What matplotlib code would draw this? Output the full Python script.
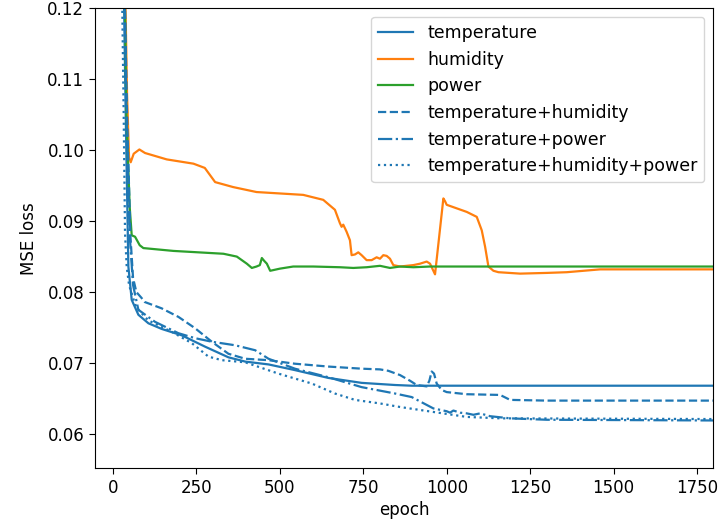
import matplotlib
matplotlib.use("Agg")
import matplotlib.pyplot as plt

plt.rcParams['font.family'] = ['DejaVu Sans']
plt.rcParams['font.size'] = 12

# ---------------- data ----------------
temp_x = [0, 30, 38, 46, 56, 76, 106, 146, 206, 276, 346, 396, 466, 545, 645, 745, 845, 895, 1000, 1200, 1400, 1600, 1800]
temp_y = [0.5, 0.13, 0.105, 0.0836, 0.0789, 0.0768, 0.0756, 0.0748, 0.0739, 0.0723, 0.0708, 0.0702, 0.0698,
          0.0690, 0.0679, 0.0672, 0.0669, 0.0668, 0.0668, 0.0668, 0.0668, 0.0668, 0.0668]

hum_x = [0, 30, 42, 48, 53, 62, 79, 96, 161, 241, 275, 306, 360, 430, 500, 570, 630, 665, 680, 685, 690, 700,
         710, 715, 725, 735, 745, 760, 775, 790, 800, 810, 820, 830, 840, 860, 880, 900, 920, 940, 950, 965,
         990, 995, 1000, 1060, 1090, 1105, 1115, 1125, 1140, 1155, 1220, 1300, 1360, 1460, 1600, 1800]
hum_y = [0.6, 0.14, 0.108, 0.0990, 0.0983, 0.0995, 0.1001, 0.0996, 0.0987, 0.0981, 0.0975, 0.0955, 0.0948,
         0.0941, 0.0939, 0.0937, 0.0930, 0.0916, 0.0897, 0.0892, 0.0895, 0.0885,
         0.0873, 0.0852, 0.0853, 0.0856, 0.0852, 0.0845, 0.0845, 0.0849, 0.0847, 0.0852, 0.0851, 0.0847,
         0.0838, 0.0836, 0.0837, 0.0838, 0.0840, 0.0843, 0.0840, 0.0825,
         0.0932, 0.0928, 0.0923, 0.0913, 0.0906, 0.0887, 0.0864, 0.0836, 0.0830, 0.0828, 0.0826, 0.0827,
         0.0828, 0.0832, 0.0832, 0.0832]

pow_x = [0, 30, 40, 50, 56, 66, 80, 91, 181, 331, 371, 401, 416, 430, 440, 446, 453, 461, 471, 500, 540,
         600, 680, 720, 760, 800, 830, 860, 900, 950, 1000, 1800]
pow_y = [0.6, 0.14, 0.105, 0.092, 0.0880, 0.0878, 0.0866, 0.0862, 0.0858, 0.0854, 0.0850, 0.0840, 0.0834,
         0.0836, 0.0838, 0.0848, 0.0844, 0.0840, 0.0830, 0.0833, 0.0836,
         0.0836, 0.0835, 0.0834, 0.0835, 0.0837, 0.0834, 0.0836, 0.0835, 0.0836, 0.0836, 0.0836]

th_x = [0, 32, 42, 52, 60, 70, 85, 95, 146, 196, 246, 296, 346, 396, 466, 545, 645, 745, 800, 825, 860,
        890, 910, 940, 948, 955, 962, 970, 985, 1000, 1060, 1160, 1190, 1300, 1800]
th_y = [0.5, 0.13, 0.105, 0.088, 0.082, 0.0800, 0.0792, 0.0786, 0.0777, 0.0765, 0.0749, 0.0730, 0.0713,
        0.0706, 0.0704, 0.0699, 0.0695, 0.0692, 0.0691, 0.0689, 0.0683,
        0.0675, 0.0669, 0.0667, 0.0675, 0.0688, 0.0685, 0.0671, 0.0662, 0.0659, 0.0656, 0.0655, 0.0648,
        0.0647, 0.0647]

tp_x = [0, 32, 40, 50, 60, 76, 126, 196, 246, 296, 366, 426, 466, 545, 645, 745, 845, 895, 960, 1000,
        1010, 1020, 1040, 1060, 1080, 1100, 1130, 1190, 1300, 1800]
tp_y = [0.5, 0.13, 0.105, 0.088, 0.081, 0.0775, 0.0758, 0.0742, 0.0735, 0.0730, 0.0725, 0.0718, 0.0706,
        0.0692, 0.0680, 0.0666, 0.0657, 0.0652, 0.0636, 0.0632,
        0.0630, 0.0633, 0.0630, 0.0629, 0.0627, 0.0629, 0.0625, 0.0622, 0.0620, 0.0619]

thp_x = [0, 25, 32, 36, 41, 48, 56, 66, 76, 106, 176, 236, 286, 326, 396, 496, 596, 665, 725, 800, 860,
         960, 1060, 1160, 1800]
thp_y = [0.5, 0.13, 0.105, 0.0883, 0.0836, 0.0810, 0.0798, 0.0783, 0.0775, 0.0760, 0.0744, 0.0728,
         0.0709, 0.0704, 0.0701, 0.0685, 0.0671, 0.0657, 0.0648, 0.0643, 0.0638, 0.0631, 0.0624, 0.0622,
         0.0621]

labels = ['temperature', 'humidity', 'power', 'temperature+humidity',
          'temperature+power', 'temperature+humidity+power']
x_ticks = [0, 250, 500, 750, 1000, 1250, 1500, 1750]
y_ticks = [0.06, 0.07, 0.08, 0.09, 0.10, 0.11, 0.12]

# ---------------- plot ----------------
fig = plt.figure(figsize=(7.21, 5.24), dpi=100)
ax = fig.add_axes([95 / 721, 56 / 524, (713 - 95) / 721, (468 - 8.3) / 524])

lw = 1.6
blue, orange, green = '#1f77b4', '#ff7f0e', '#2ca02c'
ax.plot(temp_x, temp_y, color=blue, lw=lw, ls='-', label=labels[0])
ax.plot(hum_x, hum_y, color=orange, lw=lw, ls='-', label=labels[1])
ax.plot(pow_x, pow_y, color=green, lw=lw, ls='-', label=labels[2])
ax.plot(th_x, th_y, color=blue, lw=lw, ls='--', label=labels[3])
ax.plot(tp_x, tp_y, color=blue, lw=lw, ls='-.', label=labels[4])
ax.plot(thp_x, thp_y, color=blue, lw=lw, ls=':', label=labels[5])

ax.set_xlim(-54, 1798)
ax.set_ylim(0.0552, 0.12)
ax.set_xticks(x_ticks)
ax.set_yticks(y_ticks)
ax.set_yticklabels([f'{v:.2f}' for v in y_ticks])
ax.set_xlabel('epoch', labelpad=3)
ax.set_ylabel('MSE loss', labelpad=7)
ax.tick_params(length=4.2)
ax.legend(loc='upper right', fontsize=12.5)

fig.savefig('out.png', dpi=100)
